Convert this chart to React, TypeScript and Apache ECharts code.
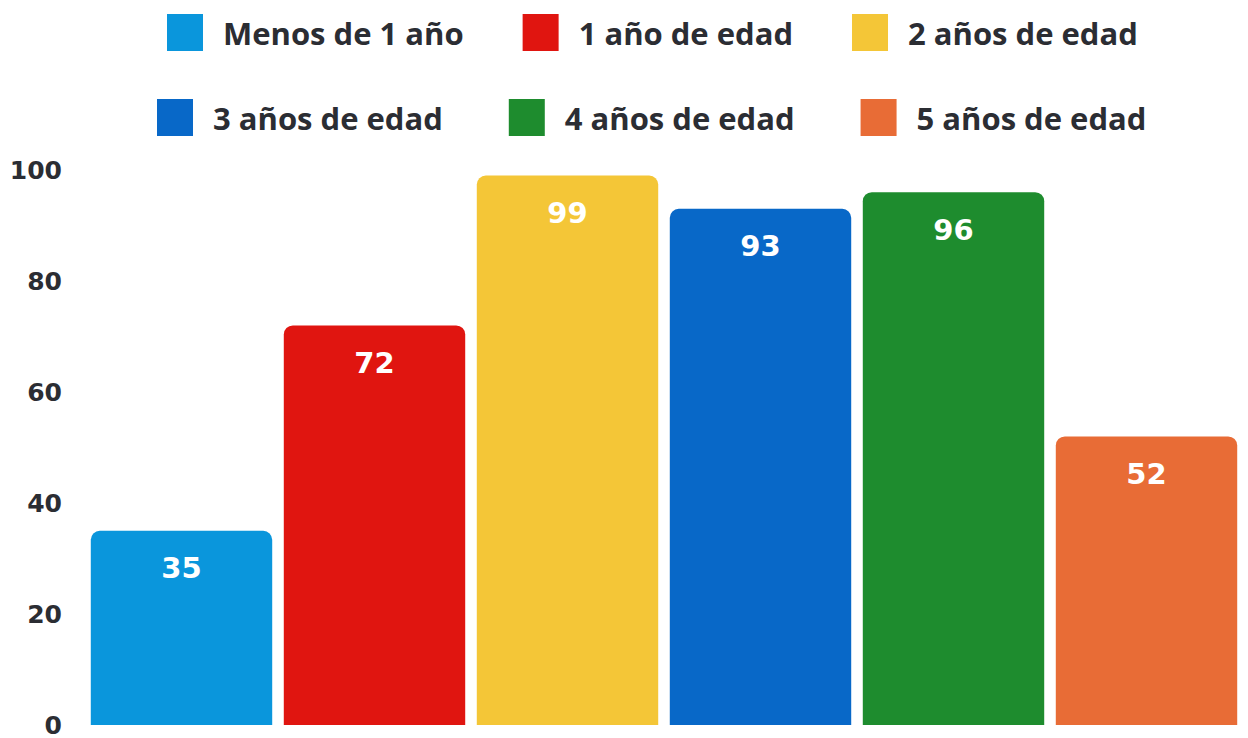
import React, { useEffect, useRef } from "react";
import * as echarts from "echarts";

const categories = ["Menos de 1 año", "1 año de edad", "2 años de edad", "3 años de edad", "4 años de edad", "5 años de edad"];
const values = [35, 72, 99, 93, 96, 52];
const colors = ["#0A96DC", "#E01510", "#F4C637", "#0868C8", "#1E8C2E", "#E86C36"];
const yTicks = [0, 20, 40, 60, 80, 100];

const FONT = "'Open Sans', 'DejaVu Sans', sans-serif";
const DIGIT_FONT = "'DejaVu Sans', sans-serif";
const TEXT = "#2b2d33";

export default function App() {
  const ref = useRef<HTMLDivElement>(null);
  useEffect(() => {
    if (!ref.current) return;
    const chart = echarts.init(ref.current, undefined, { renderer: "svg" });
    const series = categories.map((name, i) => ({
      name,
      type: "bar" as const,
      stack: "all",
      barWidth: "94%",
      itemStyle: { color: colors[i], borderRadius: [9, 9, 0, 0] },
      label: {
        show: true,
        position: "insideTop" as const,
        distance: 23,
        color: "#ffffff",
        fontFamily: DIGIT_FONT,
        fontWeight: "bold" as const,
        fontSize: 29,
      },
      data: categories.map((_, j) => (j === i ? values[i] : "-")),
    }));
    const legendCommon = {
      icon: "rect",
      itemWidth: 36,
      itemHeight: 37,
      textStyle: {
        fontFamily: FONT,
        fontWeight: "bold" as const,
        fontSize: 31,
        color: TEXT,
        padding: [0, 0, 0, 15],
      },
    };
    chart.setOption({
      animation: false,
      backgroundColor: "#ffffff",
      legend: [
        { ...legendCommon, left: 162, top: 9, itemGap: 59, data: categories.slice(0, 3) },
        { ...legendCommon, left: 152, top: 94, itemGap: 66, data: categories.slice(3) },
      ],
      grid: { left: 85, right: 5, top: 170, bottom: 13, containLabel: false },
      xAxis: {
        type: "category",
        data: categories,
        axisLine: { show: false },
        axisTick: { show: false },
        axisLabel: { show: false },
      },
      yAxis: {
        type: "value",
        min: yTicks[0],
        max: yTicks[yTicks.length - 1],
        interval: 20,
        splitLine: { show: false },
        axisLine: { show: false },
        axisTick: { show: false },
        axisLabel: {
          margin: 23,
          fontFamily: DIGIT_FONT,
          fontWeight: "bold",
          fontSize: 25,
          lineHeight: 18,
          color: TEXT,
        },
      },
      series,
    });
    return () => chart.dispose();
  }, []);
  return (
    <div
      ref={ref}
      style={{ position: "fixed", left: 0, top: 0, width: 1248, height: 738 }}
    />
  );
}
